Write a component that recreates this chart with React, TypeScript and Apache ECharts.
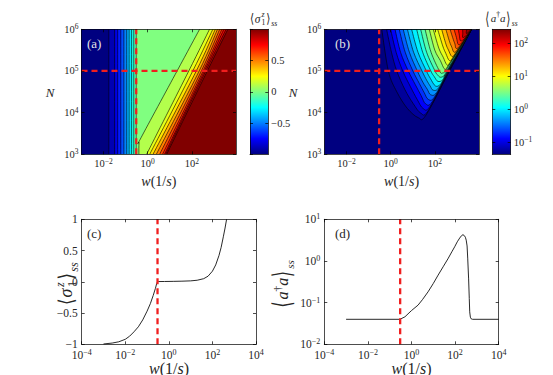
import React, { useEffect, useRef } from "react";
import * as echarts from "echarts";

// ===================== DATA =====================
// Every w value is log10(w·s); every N value is log10(N).
const wCritLog = -0.52; // dashed vertical line
const nCutLog = 5; // dashed horizontal line (N = 10^5)

const mapWRange = [-3, 4];
const mapNRange = [3, 6];
const cutWRange = [-4, 4];
const mapWTickExps = [-2, 0, 2];

// (c) <sigma_1^z>_ss along the cut N = 10^5
const cLogW = [-3, -2.6, -2.3, -2.0, -1.8, -1.6, -1.4, -1.2, -1.0, -0.85, -0.72, -0.62, -0.56, -0.52, -0.48, -0.2, 0.2, 0.6, 1.0, 1.3, 1.6, 1.8, 2.0, 2.15, 2.3, 2.4, 2.5, 2.58, 2.65];
const cSigma = [-0.995, -0.98, -0.96, -0.92, -0.87, -0.8, -0.72, -0.61, -0.47, -0.35, -0.22, -0.11, -0.03, 0.0, 0.004, 0.005, 0.007, 0.01, 0.015, 0.025, 0.05, 0.09, 0.17, 0.27, 0.42, 0.55, 0.72, 0.86, 1.0];

// (d) log10 <a†a>_ss along the cut N = 10^5
const dLogW = [-3, -0.53, -0.3, -0.16, 0, 0.3, 0.5, 0.76, 1.0, 1.22, 1.45, 1.67, 1.85, 1.98, 2.1, 2.21, 2.3, 2.36, 2.42, 2.47, 2.51, 2.55, 2.58, 2.62, 2.65, 2.67, 2.7, 2.74, 2.8, 4];
const dLogOcc = [-1.4, -1.4, -1.34, -1.27, -1.19, -1.06, -0.93, -0.74, -0.54, -0.34, -0.14, 0.05, 0.22, 0.34, 0.46, 0.55, 0.61, 0.63, 0.61, 0.57, 0.5, 0.36, 0.05, -0.43, -0.9, -1.22, -1.35, -1.39, -1.4, -1.4];

// (a) contour map of <sigma_1^z>_ss
const aColorRange = [-1, 1];
const aLeftLevels = [-0.9, -0.8, -0.7, -0.6, -0.5, -0.4, -0.3, -0.2, -0.1];
const aLeftLogW = [-1.76, -1.5, -1.36, -1.22, -1.08, -0.95, -0.84, -0.73, -0.63];
const aJumpLevel = 0;
const aDiagLevels = [0.1, 0.2, 0.3, 0.4, 0.5, 0.6, 0.7, 0.8, 0.9, 1.0];
const aDiagContours: number[][][] = [
  [[-0.4, 3], [-0.39, 3.28], [-0.3, 3.4], [1.33, 5], [2.35, 6]],
  [[-0.05, 3], [1.86, 5], [2.8, 6]],
  [[0.09, 3], [2.04, 5], [2.95, 6]],
  [[0.24, 3], [2.2, 5], [3.06, 6]],
  [[0.39, 3], [2.33, 5], [3.16, 6]],
  [[0.54, 3], [2.43, 5], [3.26, 6]],
  [[0.67, 3], [2.51, 5], [3.36, 6]],
  [[0.76, 3], [2.57, 5], [3.45, 6]],
  [[0.81, 3], [2.63, 5], [3.55, 6]],
  [[0.86, 3], [2.7, 5], [3.63, 6]],
];

// (b) contour map of log10 <a†a>_ss
const bColorRange = [-1.35, 2.42];
const bColorTickExps = [-1, 0, 1, 2];
const bLevels = [-1.25, -1.07, -0.89, -0.71, -0.53, -0.35, -0.17, 0.01, 0.19, 0.37, 0.55, 0.73, 0.91, 1.09, 1.27, 1.45, 1.63, 1.81, 1.99, 2.17, 2.35];
const bContours: number[][][] = [
  [[-0.4, 6], [-0.1, 5], [0.28, 4.5], [0.76, 4.1], [1.25, 3.88], [1.6, 3.94], [2.67, 5], [3.67, 6]],
  [[-0.18, 6], [0.04, 5.45], [0.28, 5], [0.65, 4.55], [1.02, 4.22], [1.36, 3.99], [1.69, 4.04], [2.655, 5], [3.668, 6]],
  [[0.0, 6], [0.25, 5.45], [0.55, 5], [0.9, 4.62], [1.2, 4.32], [1.47, 4.1], [1.78, 4.15], [2.64, 5], [3.666, 6]],
  [[0.2, 6], [0.45, 5.45], [0.8, 5], [1.12, 4.67], [1.38, 4.41], [1.585, 4.21], [1.88, 4.26], [2.625, 5], [3.664, 6]],
  [[0.39, 6], [0.66, 5.45], [1.01, 5], [1.3, 4.7], [1.52, 4.48], [1.7, 4.32], [1.98, 4.37], [2.61, 5], [3.662, 6]],
  [[0.57, 6], [0.85, 5.45], [1.21, 5], [1.46, 4.73], [1.66, 4.56], [1.81, 4.43], [2.08, 4.48], [2.6, 5], [3.66, 6]],
  [[0.76, 6], [1.04, 5.45], [1.42, 5], [1.63, 4.78], [1.79, 4.64], [1.92, 4.54], [2.17, 4.59], [2.59, 5], [3.658, 6]],
  [[0.95, 6], [1.24, 5.45], [1.62, 5], [1.8, 4.82], [2.03, 4.64], [2.27, 4.69], [2.58, 5], [3.656, 6]],
  [[1.18, 6], [1.45, 5.45], [1.82, 5], [1.98, 4.86], [2.14, 4.75], [2.36, 4.79], [2.56, 5], [3.654, 6]],
  [[1.36, 6], [1.63, 5.45], [2.01, 5], [2.12, 4.91], [2.25, 4.85], [2.43, 4.89], [2.54, 5], [3.652, 6]],
  [[1.56, 6], [1.83, 5.45], [2.21, 5], [2.35, 4.95], [2.49, 5], [2.62, 5.12], [3.65, 6]],
  [[1.75, 6], [2.0, 5.5], [2.25, 5.25], [2.44, 5.05], [2.61, 5.13], [3.648, 6]],
  [[1.93, 6], [2.18, 5.55], [2.38, 5.33], [2.55, 5.15], [2.72, 5.23], [3.646, 6]],
  [[2.13, 6], [2.36, 5.6], [2.5, 5.42], [2.66, 5.25], [2.83, 5.33], [3.644, 6]],
  [[2.31, 6], [2.5, 5.65], [2.62, 5.5], [2.77, 5.35], [2.94, 5.43], [3.642, 6]],
  [[2.5, 6], [2.67, 5.7], [2.77, 5.57], [2.87, 5.45], [3.05, 5.53], [3.64, 6]],
  [[2.69, 6], [2.84, 5.75], [2.91, 5.65], [2.97, 5.54], [3.16, 5.62], [3.638, 6]],
  [[2.87, 6], [2.98, 5.8], [3.07, 5.63], [3.27, 5.71], [3.636, 6]],
  [[3.06, 6], [3.11, 5.86], [3.17, 5.72], [3.38, 5.8], [3.634, 6]],
  [[3.26, 6], [3.265, 5.9], [3.27, 5.8], [3.48, 5.88], [3.632, 6]],
  [[3.44, 6], [3.43, 5.9], [3.565, 5.95], [3.63, 6]],
];

// ===================== HELPERS =====================
const FONT = "'Liberation Serif','DejaVu Serif','Times New Roman','DejaVu Sans',serif";
const TXT = "#262626";

function jet(t: number): string {
  const x = Math.max(0, Math.min(1, t));
  const c = (v: number) => Math.round(255 * Math.max(0, Math.min(1, v)));
  return `rgb(${c(1.5 - Math.abs(4 * x - 3))},${c(1.5 - Math.abs(4 * x - 2))},${c(1.5 - Math.abs(4 * x - 1))})`;
}
const norm = (v: number, r: number[]) => (v - r[0]) / (r[1] - r[0]);
const minus = (v: number) => (v < 0 ? "\u2212" : "") + String(Math.abs(v));
const powLabel = (v: number) => `{b|10}{s|${minus(Math.round(v))}}`;
const rich = (b: number, s: number, lh: number, slh: number) => ({
  b: { fontSize: b, fontFamily: FONT, color: TXT, lineHeight: lh },
  s: { fontSize: s, fontFamily: FONT, color: TXT, lineHeight: slh, verticalAlign: "top" },
});

function crPath(p: number[][]): string {
  const f = (n: number) => n.toFixed(2);
  let d = `M${f(p[0][0])},${f(p[0][1])}`;
  for (let i = 0; i < p.length - 1; i++) {
    const p0 = p[i - 1] || p[i];
    const p1 = p[i];
    const p2 = p[i + 1];
    const p3 = p[i + 2] || p2;
    const c1x = p1[0] + (p2[0] - p0[0]) / 6;
    const c1y = p1[1] + (p2[1] - p0[1]) / 6;
    const c2x = p2[0] - (p3[0] - p1[0]) / 6;
    const c2y = p2[1] - (p3[1] - p1[1]) / 6;
    d += ` C${f(c1x)},${f(c1y)} ${f(c2x)},${f(c2y)} ${f(p2[0])},${f(p2[1])}`;
  }
  return d;
}

type Shape = { pts: number[][]; close: "left" | "right" | "loop" | "open"; fill?: string; stroke?: string };

const shapeRenderer = (shapes: Shape[], xr: number[], yr: number[]) => (params: any, api: any) => {
  const s = shapes[params.dataIndex];
  const pix = s.pts.map((q) => api.coord(q));
  let d = crPath(pix);
  if (s.close === "left" || s.close === "right") {
    const xe = s.close === "left" ? xr[0] : xr[1];
    const a = api.coord([xe, yr[1]]);
    const b = api.coord([xe, yr[0]]);
    d += ` L${a[0]},${a[1]} L${b[0]},${b[1]} Z`;
  } else if (s.close === "loop") d += " Z";
  return {
    type: "path",
    shape: { pathData: d },
    style: { fill: s.fill || "none", stroke: s.stroke || "none", lineWidth: s.stroke ? 0.6 : 0 },
  };
};

const colorbarRenderer = (r: number[]) => (params: any, api: any) => {
  const p0 = api.coord([0, r[1]]);
  const p1 = api.coord([1, r[0]]);
  const stops: any[] = [];
  for (let i = 0; i <= 32; i++) stops.push({ offset: i / 32, color: jet(1 - i / 32) });
  return {
    type: "rect",
    shape: { x: p0[0], y: p0[1], width: p1[0] - p0[0], height: p1[1] - p0[1] },
    style: { fill: new echarts.graphic.LinearGradient(0, 0, 0, 1, stops) },
  };
};

// ---- shapes of (a) ----
const aShapes: Shape[] = [];
aShapes.push({ pts: [[wCritLog, mapNRange[0]], [wCritLog, mapNRange[1]]], close: "left", fill: jet(norm(aLeftLevels[aLeftLevels.length - 1], aColorRange)) });
for (let k = aLeftLevels.length - 1; k >= 0; k--) {
  const lower = k === 0 ? aColorRange[0] : aLeftLevels[k - 1];
  aShapes.push({ pts: [[aLeftLogW[k], mapNRange[0]], [aLeftLogW[k], mapNRange[1]]], close: "left", fill: jet(norm(lower, aColorRange)) });
}
aShapes.push({ pts: [[wCritLog, mapNRange[0]], [wCritLog, mapNRange[1]]], close: "right", fill: jet(norm(aJumpLevel, aColorRange)) });
aDiagContours.forEach((c, k) => aShapes.push({ pts: c, close: "right", fill: jet(norm(aDiagLevels[k], aColorRange)) }));
aLeftLogW.forEach((w) => aShapes.push({ pts: [[w, mapNRange[0]], [w, mapNRange[1]]], close: "open", stroke: "#000" }));
aShapes.push({ pts: [[wCritLog, mapNRange[0]], [wCritLog, mapNRange[1]]], close: "open", stroke: "#000" });
aDiagContours.forEach((c) => aShapes.push({ pts: c, close: "open", stroke: "#000" }));

// ---- shapes of (b) ----
const bShapes: Shape[] = [{ pts: [[mapWRange[0], mapNRange[0]], [mapWRange[0], mapNRange[1]]], close: "right", fill: jet(0) }];
bContours.forEach((c, k) => bShapes.push({ pts: c, close: "loop", fill: jet(norm(bLevels[k], bColorRange)), stroke: "#000" }));

// ---- axes ----
const AXL = { color: "#000", width: 0.7 };
function axis(grid: number, pos: string, r: number[], o: any) {
  const ax: any = {
    gridIndex: grid,
    type: "value",
    position: pos,
    min: r[0],
    max: r[1],
    z: 5,
    axisLine: { show: true, onZero: false, lineStyle: AXL },
    axisTick: { show: !!o.ticks, inside: true, length: 3, lineStyle: AXL },
    axisLabel: { show: false },
    splitLine: { show: false },
  };
  if (o.interval != null) ax.interval = o.interval;
  if (o.custom) ax.axisTick.customValues = o.custom;
  if (o.labels) {
    ax.axisLabel = { show: true, ...o.labels };
    if (o.custom) ax.axisLabel.customValues = o.custom;
  }
  return ax;
}
const topTick = rich(10.5, 7.5, 13, 7);
const botTick = rich(11.5, 8, 12, 6);
const botTickY = rich(11.5, 8, 13, 7);
const cbTick = rich(10.5, 7.5, 14, 7.5);
const mapX = (g: number, pos: string, lab: boolean) =>
  axis(g, pos, mapWRange, { custom: mapWTickExps, ticks: true, labels: lab ? { formatter: powLabel, rich: topTick, margin: 3 } : null });
const mapY = (g: number, pos: string, lab: boolean) =>
  axis(g, pos, mapNRange, { interval: 1, ticks: true, labels: lab ? { formatter: powLabel, rich: topTick, margin: 3 } : null });
const cutX = (g: number, pos: string, lab: boolean) =>
  axis(g, pos, cutWRange, { interval: 2, ticks: true, labels: lab ? { formatter: powLabel, rich: botTick, margin: 4.5 } : null });

const xAxis = [
  mapX(0, "bottom", true), mapX(0, "top", false),
  axis(1, "bottom", [0, 1], {}), axis(1, "top", [0, 1], {}),
  mapX(2, "bottom", true), mapX(2, "top", false),
  axis(3, "bottom", [0, 1], {}), axis(3, "top", [0, 1], {}),
  cutX(4, "bottom", true), cutX(4, "top", false),
  cutX(5, "bottom", true), cutX(5, "top", false),
];
const yAxis = [
  mapY(0, "left", true), mapY(0, "right", false),
  axis(1, "left", aColorRange, { interval: 0.5, ticks: true }),
  axis(1, "right", aColorRange, {
    interval: 0.5, ticks: true,
    labels: { formatter: (v: number) => minus(v), fontSize: 10.5, fontFamily: FONT, color: TXT, margin: 3, showMinLabel: false, showMaxLabel: false },
  }),
  mapY(2, "left", true), mapY(2, "right", false),
  axis(3, "left", bColorRange, { custom: bColorTickExps, ticks: true }),
  axis(3, "right", bColorRange, { custom: bColorTickExps, ticks: true, labels: { formatter: powLabel, rich: cbTick, margin: 3 } }),
  axis(4, "left", [-1, 1], { interval: 0.5, ticks: true, labels: { formatter: (v: number) => minus(v), fontSize: 11.5, lineHeight: 9, fontFamily: FONT, color: TXT, margin: 4 } }),
  axis(4, "right", [-1, 1], { interval: 0.5, ticks: true }),
  axis(5, "left", [-2, 1], { interval: 1, ticks: true, labels: { formatter: powLabel, rich: botTickY, margin: 4 } }),
  axis(5, "right", [-2, 1], { interval: 1, ticks: true }),
];

const dashed = (ai: number, pts: number[][]) => ({
  type: "line", xAxisIndex: ai, yAxisIndex: ai, data: pts, symbol: "none", silent: true, z: 4,
  lineStyle: { color: "#f01e1e", width: 2.3, type: [6, 4] },
});

// ---- composite math labels ----
type Piece = [string, number, number, number, boolean, number];
const sigmaPieces: Piece[] = [
  ["\u27E8", 0, 0, 1.15, false, 0.8],
  ["\u03C3", 0.42, 0, 1, true, 1],
  ["z", 1.0, -0.36, 0.68, true, 1],
  ["1", 1.0, 0.32, 0.68, false, 1],
  ["\u27E9", 1.42, 0, 1.15, false, 0.8],
  ["ss", 1.85, 0.42, 0.68, true, 1],
];
const occPieces: Piece[] = [
  ["\u27E8", 0, 0.05, 1.6, false, 0.6],
  ["a", 0.5, 0, 1, true, 1],
  ["\u2020", 1.0, -0.32, 0.7, false, 1],
  ["a", 1.35, 0, 1, true, 1],
  ["\u27E9", 1.9, 0.05, 1.6, false, 0.6],
  ["ss", 2.42, 0.5, 0.68, true, 1],
];
function mathText(cx: number, cy: number, f: number, rot: number, pieces: Piece[], width: number) {
  return {
    type: "group", x: cx, y: cy, rotation: rot, z: 10,
    children: pieces.map(([t, dx, dy, s, it, sx]) => ({
      type: "text", x: (dx - width / 2) * f, y: dy * f, scaleX: sx,
      style: { text: t, font: `${it ? "italic " : ""}${(s * f).toFixed(1)}px ${FONT}`, fill: TXT, textAlign: "left", textVerticalAlign: "middle", align: "left", verticalAlign: "middle" },
    })),
  };
}
const plainText = (x: number, y: number, t: string, size: number, color: string, italic = false, alignC = false) => ({
  type: "text", x, y, z: 10,
  style: {
    text: t, font: `${italic ? "italic " : ""}${size}px ${FONT}`, fill: color,
    textAlign: alignC ? "center" : "left", align: alignC ? "center" : "left", textVerticalAlign: "middle", verticalAlign: "middle",
  },
});
const wLabel = (x: number, y: number, f: number) => ({
  type: "text", x, y, z: 10,
  style: {
    text: "{i|w}{r|(1/}{i|s}{r|)}",
    rich: { i: { font: `italic ${f}px ${FONT}`, fill: TXT }, r: { font: `${f}px ${FONT}`, fill: TXT } },
    textAlign: "center", align: "center", textVerticalAlign: "middle", verticalAlign: "middle",
  },
});

export default function App() {
  const ref = useRef<HTMLDivElement>(null);
  useEffect(() => {
    if (!ref.current) return;
    const chart = echarts.init(ref.current, null, { renderer: "svg" });
    const option: any = {
      animation: false,
      backgroundColor: "#fff",
      grid: [
        { left: 81.5, top: 29.3, width: 154.5, height: 125 },
        { left: 250, top: 29.3, width: 18.3, height: 125 },
        { left: 324.3, top: 29.3, width: 154.7, height: 125 },
        { left: 492.3, top: 29.3, width: 18.4, height: 125 },
        { left: 81.7, top: 219.3, width: 174.3, height: 125 },
        { left: 324.3, top: 219.3, width: 174.4, height: 125 },
      ],
      xAxis,
      yAxis,
      series: [
        { type: "custom", xAxisIndex: 0, yAxisIndex: 0, clip: true, z: 1, silent: true, renderItem: shapeRenderer(aShapes, mapWRange, mapNRange), data: aShapes.map(() => [mapWRange[0], mapNRange[0]]) },
        dashed(0, [[wCritLog, mapNRange[0]], [wCritLog, mapNRange[1]]]),
        dashed(0, [[mapWRange[0], nCutLog], [mapWRange[1], nCutLog]]),
        { type: "custom", xAxisIndex: 2, yAxisIndex: 2, z: 1, silent: true, renderItem: colorbarRenderer(aColorRange), data: [[0, aColorRange[0]]] },
        { type: "custom", xAxisIndex: 4, yAxisIndex: 4, clip: true, z: 1, silent: true, renderItem: shapeRenderer(bShapes, mapWRange, mapNRange), data: bShapes.map(() => [mapWRange[0], mapNRange[0]]) },
        dashed(4, [[wCritLog, mapNRange[0]], [wCritLog, mapNRange[1]]]),
        dashed(4, [[mapWRange[0], nCutLog], [mapWRange[1], nCutLog]]),
        { type: "custom", xAxisIndex: 6, yAxisIndex: 6, z: 1, silent: true, renderItem: colorbarRenderer(bColorRange), data: [[0, bColorRange[0]]] },
        { type: "line", xAxisIndex: 8, yAxisIndex: 8, data: cLogW.map((w, i) => [w, cSigma[i]]), symbol: "none", clip: true, z: 3, lineStyle: { color: "#111", width: 0.9 } },
        dashed(8, [[wCritLog, -1], [wCritLog, 1]]),
        { type: "line", xAxisIndex: 10, yAxisIndex: 10, data: dLogW.map((w, i) => [w, dLogOcc[i]]), symbol: "none", clip: true, z: 3, lineStyle: { color: "#111", width: 0.9 } },
        dashed(10, [[wCritLog, -2], [wCritLog, 1]]),
      ],
      graphic: [
        plainText(87, 43, "(a)", 13, "#e4e4e4"),
        plainText(335, 43, "(b)", 13, "#e4e4e4"),
        plainText(87, 233, "(c)", 13, TXT),
        plainText(335, 233, "(d)", 13, TXT),
        plainText(50, 92, "N", 13, TXT, true, true),
        plainText(293, 92, "N", 13, TXT, true, true),
        wLabel(158.8, 181, 14),
        wLabel(401.6, 181, 14),
        wLabel(169, 368, 16),
        wLabel(411.5, 368, 16),
        mathText(264, 19, 11.5, 0, sigmaPieces, 2.45),
        mathText(502, 18, 11, 0, occPieces, 3.05),
        mathText(66, 283, 18, Math.PI / 2, sigmaPieces, 2.45),
        mathText(282, 283, 16, Math.PI / 2, occPieces, 3.05),
      ],
    };
    chart.setOption(option);
    return () => chart.dispose();
  }, []);
  return <div ref={ref} style={{ position: "absolute", left: 0, top: 0, width: 553, height: 375 }} />;
}
